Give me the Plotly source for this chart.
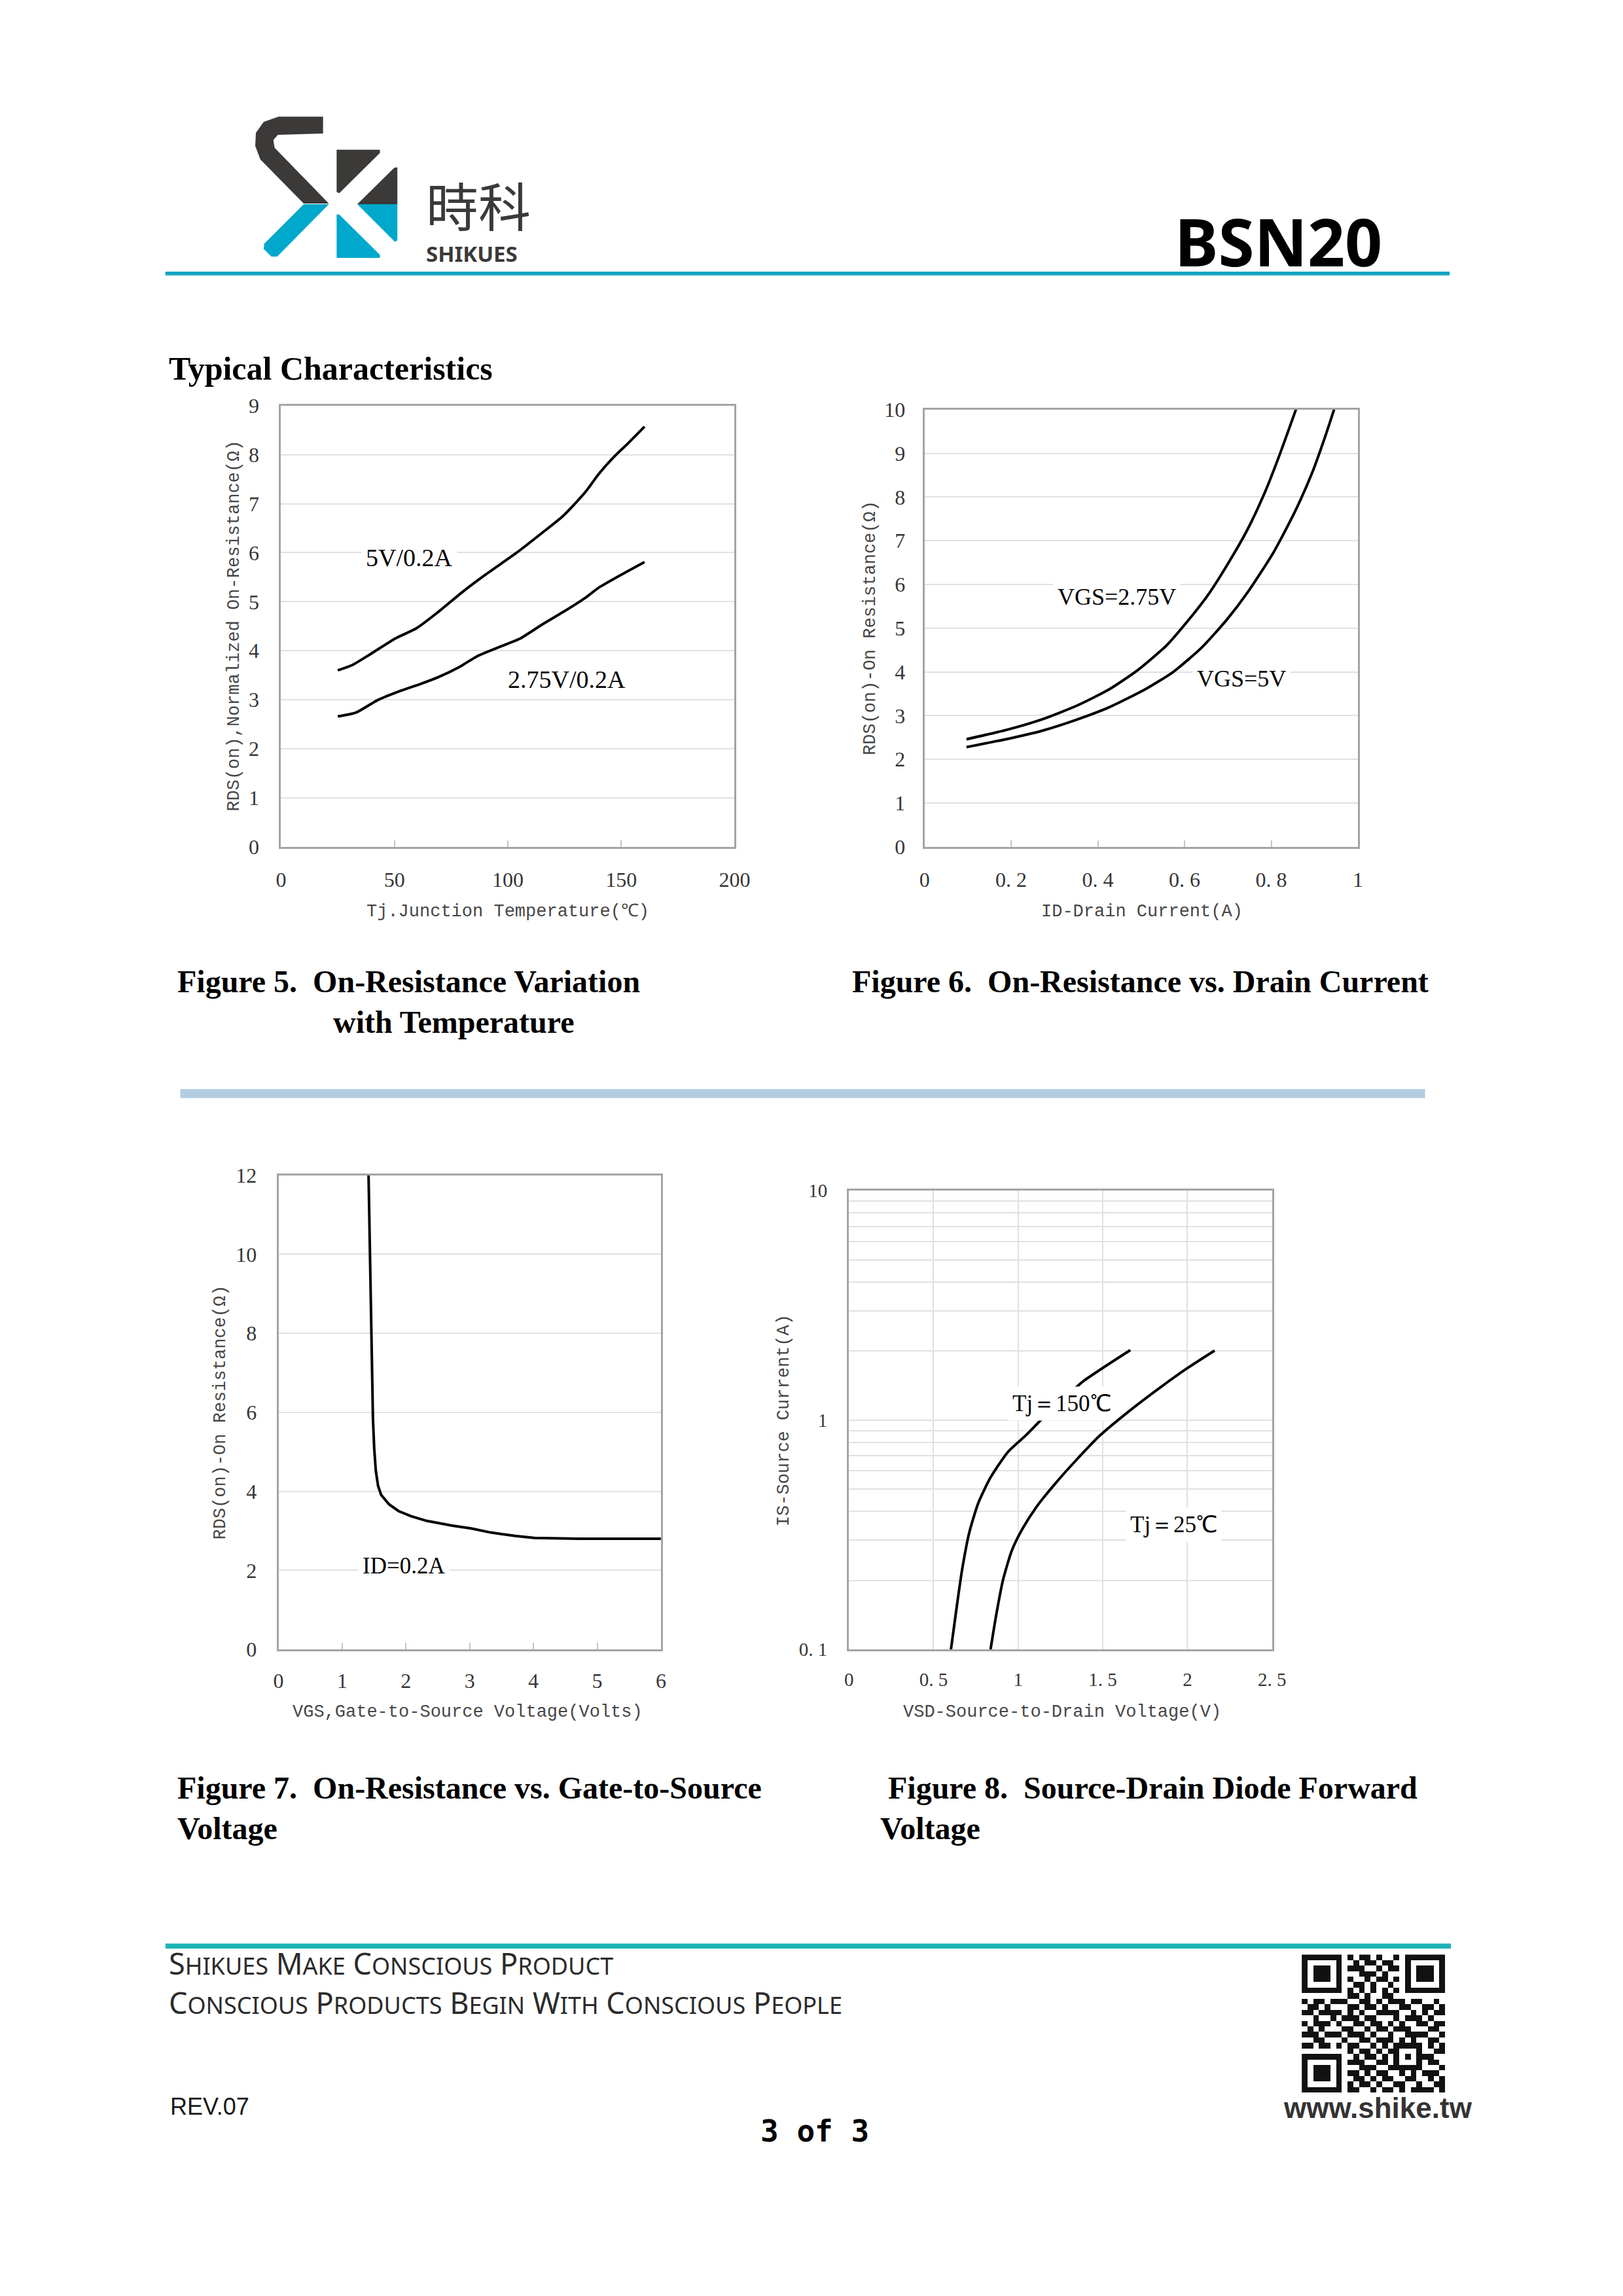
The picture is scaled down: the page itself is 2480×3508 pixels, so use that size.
import plotly.graph_objects as go

W, H = 2480, 3508

# Figure 5: on-resistance vs junction temperature
TEMP_5V = [25, 31.5, 39.4, 50.4, 59.8, 69.3, 80.3, 89.8, 103.9, 115, 124.4, 133.9, 140.2, 146.5, 152.8, 160.3]
RDS_5V = [3.60, 3.71, 3.93, 4.25, 4.46, 4.79, 5.21, 5.54, 6.00, 6.40, 6.75, 7.22, 7.61, 7.94, 8.22, 8.57]
TEMP_275V = [25, 33.1, 42.5, 52, 61.4, 69.3, 78.7, 86.6, 97.6, 105.5, 115, 124.4, 133.9, 140.2, 149.6, 160.3]
RDS_275V = [2.66, 2.74, 2.99, 3.17, 3.32, 3.46, 3.67, 3.89, 4.10, 4.25, 4.53, 4.79, 5.07, 5.29, 5.54, 5.81]

# Figure 6: on-resistance vs drain current
ID_VGS275 = [0.097, 0.188, 0.270, 0.352, 0.426, 0.492, 0.558, 0.607, 0.657, 0.706, 0.747, 0.788, 0.821, 0.857]
RDS_VGS275 = [2.46, 2.67, 2.91, 3.23, 3.60, 4.04, 4.60, 5.16, 5.80, 6.57, 7.29, 8.17, 9.01, 10.0]
ID_VGS5 = [0.097, 0.188, 0.270, 0.352, 0.426, 0.509, 0.574, 0.640, 0.698, 0.747, 0.805, 0.854, 0.895, 0.924, 0.945]
RDS_VGS5 = [2.28, 2.46, 2.65, 2.91, 3.19, 3.60, 4.00, 4.56, 5.20, 5.84, 6.73, 7.65, 8.57, 9.37, 10.0]

# Figure 7: on-resistance vs gate-to-source voltage
VGS = [1.413, 1.428, 1.443, 1.463, 1.482, 1.502, 1.527, 1.562, 1.611, 1.735, 1.884, 2.082,
       2.330, 2.727, 3.024, 3.322, 3.718, 4.016, 4.71, 6.0]
RDS_VGS = [12.0, 10.54, 8.66, 7.25, 5.84, 5.08, 4.52, 4.14, 3.91, 3.67, 3.50, 3.37,
           3.25, 3.13, 3.06, 2.96, 2.87, 2.82, 2.80, 2.80]

# Figure 8: source-drain diode forward voltage
VSD_150 = [0.603, 0.638, 0.669, 0.711, 0.764, 0.837, 0.941, 1.046, 1.151, 1.266, 1.381, 1.663]
IS_150 = [0.1, 0.155, 0.223, 0.323, 0.434, 0.562, 0.728, 0.859, 1.03, 1.23, 1.47, 2.02]
VSD_25 = [0.837, 0.868, 0.910, 0.962, 1.025, 1.109, 1.213, 1.339, 1.485, 1.653, 1.841, 2.008, 2.161]
IS_25 = [0.1, 0.138, 0.2, 0.269, 0.335, 0.419, 0.522, 0.664, 0.859, 1.09, 1.39, 1.70, 2.01]

# tick labels
FIG5_XTICKS = [0, 50, 100, 150, 200]
FIG5_YTICKS = [0, 1, 2, 3, 4, 5, 6, 7, 8, 9]
FIG6_XTICKS = [0, 0.2, 0.4, 0.6, 0.8, 1]
FIG6_XTEXT = ["0", "0. 2", "0. 4", "0. 6", "0. 8", "1"]
FIG6_YTICKS = [0, 1, 2, 3, 4, 5, 6, 7, 8, 9, 10]
FIG7_XTICKS = [0, 1, 2, 3, 4, 5, 6]
FIG7_YTICKS = [0, 2, 4, 6, 8, 10, 12]
FIG8_XTICKS = [0, 0.5, 1, 1.5, 2, 2.5]
FIG8_XTEXT = ["0", "0. 5", "1", "1. 5", "2", "2. 5"]
FIG8_YTICKS = [0.1, 0.2, 0.3, 0.4, 0.5, 0.6, 0.7, 0.8, 0.9,
               1, 2, 3, 4, 5, 6, 7, 8, 9, 10]
FIG8_YTEXT = ["0. 1", "", "", "", "", "", "", "", "",
              "1", "", "", "", "", "", "", "", "", "10"]

# QR code decoration (finder patterns + module rows)
FINDER = ["1111111", "1000001", "1011101", "1011101", "1011101", "1000001", "1111111"]
QR_TOP_MID = ["101101001", "010110110", "111001011", "001110100", "100101101", "011010010", "101010101"]
QR_MID_ROWS = [
    "0000000" + "0" + "110100110" + "0" + "0000000",
    "1011011100110101110110010",
    "0110100011011010011001101",
    "1101111010100111100101011",
    "0010010111011000101110100",
    "1011101001101101010011011",
    "0101000110010110111000110",
    "1110111011101001001111001",
    "0011000100110111010100110",
    "1101101011001010111110101",
    "0000000" + "0" + "10110101100010011",
]
QR_BOTTOM_DATA = ["01011010101011100", "11100110100010110", "00111001111110001", "11010110010101110",
                  "01101011001100101", "10110100110010011", "11001011010111101"]

SERIF = "Liberation Serif"
MONO = "Liberation Mono"
SANS = "Noto Sans"
FRAME = "#a4a4a4"
GRID = "#e1e1e1"
TICK = "#363636"
LOGO_DARK = "#3c3939"
LOGO_CYAN = "#00a8cc"


def px(x):
    return x / W


def py(y):
    return 1 - y / H


def path(points):
    return "M " + " L ".join(f"{px(x):.5f},{py(y):.5f}" for x, y in points) + " Z"


def small_caps(text, small):
    words = []
    for word in text.split(" "):
        words.append(word[0] + f"<span style='font-size:{small}px'>{word[1:].upper()}</span>")
    return " ".join(words)


def axis(domain, rng, tickvals, ticktext=None, **kw):
    d = dict(
        domain=domain, range=rng, tickvals=tickvals,
        ticktext=ticktext if ticktext is not None else [str(v) for v in tickvals],
        showline=True, mirror=True, linecolor=FRAME, linewidth=3,
        showgrid=True, gridcolor=GRID, gridwidth=2, zeroline=False,
        ticks="", tickfont=dict(family=SERIF, size=32, color=TICK),
        fixedrange=True,
    )
    d.update(kw)
    return d


def curve(x, y, xa, ya, shape="spline"):
    return go.Scatter(
        x=x, y=y, xaxis=xa, yaxis=ya, mode="lines",
        line=dict(color="black", width=4, shape=shape, smoothing=0.6),
        hoverinfo="skip", showlegend=False,
    )


def label(text, x, y, xref, yref, size=36, bg="white"):
    return dict(text=text, x=x, y=y, xref=xref, yref=yref, showarrow=False,
                font=dict(family=SERIF, size=size, color="black"),
                bgcolor=bg, borderpad=6)


def page_text(text, x, y, size, family=SERIF, color="black", xanchor="left", angle=0, bold=False):
    if bold:
        text = f"<b>{text}</b>"
    return dict(text=text, x=px(x), y=py(y), xref="paper", yref="paper",
                xanchor=xanchor, yanchor="middle", showarrow=False, textangle=angle,
                font=dict(family=family, size=size, color=color))


fig = go.Figure()

fig.add_trace(curve(TEMP_5V, RDS_5V, "x", "y"))
fig.add_trace(curve(TEMP_275V, RDS_275V, "x", "y"))
fig.add_trace(curve(ID_VGS275, RDS_VGS275, "x2", "y2"))
fig.add_trace(curve(ID_VGS5, RDS_VGS5, "x2", "y2"))
fig.add_trace(curve(VGS, RDS_VGS, "x3", "y3", shape="linear"))
fig.add_trace(curve(VSD_150, IS_150, "x4", "y4"))
fig.add_trace(curve(VSD_25, IS_25, "x4", "y4"))

qr_rows = [FINDER[i] + "0" + QR_TOP_MID[i] + "0" + FINDER[i] for i in range(7)]
qr_rows += QR_MID_ROWS
qr_rows += [FINDER[i] + "0" + QR_BOTTOM_DATA[i] for i in range(7)]
fig.add_trace(go.Heatmap(
    z=[[int(c) for c in row] for row in qr_rows], xaxis="x5", yaxis="y5",
    colorscale=[[0, "white"], [1, "#111111"]], showscale=False, hoverinfo="skip",
))

inside_ticks = dict(ticks="inside", ticklen=10, tickwidth=2, tickcolor="#c4c4c4")
fig8_font = dict(family=SERIF, size=29, color=TICK)

fig.update_layout(
    width=W, height=H,
    margin=dict(l=0, r=0, t=0, b=0),
    paper_bgcolor="white", plot_bgcolor="white",
    showlegend=False,
    xaxis=axis([px(427), px(1129)], [0, 200], FIG5_XTICKS, anchor="y", showgrid=False,
               ticklabelstandoff=20, **inside_ticks),
    yaxis=axis([py(1289), py(608)], [0, 9], FIG5_YTICKS, anchor="x", ticklabelstandoff=24),
    xaxis2=axis([px(1423), px(2094)], [0, 1], FIG6_XTICKS, FIG6_XTEXT, anchor="y2", showgrid=False,
                ticklabelstandoff=20, **inside_ticks),
    yaxis2=axis([py(1289), py(614)], [0, 10], FIG6_YTICKS, anchor="x2", ticklabelstandoff=20),
    xaxis3=axis([px(423), px(1015)], [0, 6], FIG7_XTICKS, anchor="y3", showgrid=False,
                ticklabelstandoff=18, **inside_ticks),
    yaxis3=axis([py(2528), py(1796)], [0, 12], FIG7_YTICKS, anchor="x3", ticklabelstandoff=24),
    xaxis4=axis([px(1306), px(1961)], [0, 2.5], FIG8_XTICKS, FIG8_XTEXT, anchor="y4",
                ticklabelstandoff=18, tickfont=fig8_font),
    yaxis4=axis([py(2528), py(1820)], [-1, 1], FIG8_YTICKS, FIG8_YTEXT, anchor="x4", type="log",
                ticklabelstandoff=24, tickfont=fig8_font),
    xaxis5=dict(domain=[px(2007), px(2229)], anchor="y5", visible=False, fixedrange=True),
    yaxis5=dict(domain=[py(3212), py(2999)], anchor="x5", visible=False, autorange="reversed",
                fixedrange=True),
)

# logo and rules
shapes = [
    # "S" hook: dark upper stroke, cyan lower stroke
    dict(type="path", path=path([(492, 162), (492, 188), (422, 190), (415, 198), (417, 210),
                                 (501, 296), (462, 296), (395, 228), (387, 207), (388, 187),
                                 (400, 170), (423, 162)]), fillcolor=LOGO_DARK),
    dict(type="path", path=path([(462, 297), (501, 297), (421, 378), (412, 378), (400, 366),
                                 (401, 358)]), fillcolor=LOGO_CYAN),
    # "K" arms
    dict(type="path", path=path([(513, 213), (580, 213), (580, 218), (517, 280), (513, 278)]),
         fillcolor=LOGO_DARK),
    dict(type="path", path=path([(513, 313), (517, 313), (580, 375), (580, 380), (513, 380)]),
         fillcolor=LOGO_CYAN),
    dict(type="path", path=path([(602, 241), (607, 240), (607, 297), (545, 297)]),
         fillcolor=LOGO_DARK),
    dict(type="path", path=path([(545, 297), (607, 297), (607, 353), (603, 355)]),
         fillcolor=LOGO_CYAN),
    # header rule
    dict(type="rect", x0=px(248), x1=px(2236), y0=py(407), y1=py(401), fillcolor="#12a3c2"),
    # section separator
    dict(type="rect", x0=px(271), x1=px(2198), y0=py(1677), y1=py(1663), fillcolor="#b4cde3"),
    # footer rule
    dict(type="rect", x0=px(248), x1=px(2238), y0=py(2990), y1=py(2982), fillcolor="#1cb4b6"),
]
for s in shapes:
    s.update(xref="paper", yref="paper", line_width=0)
fig.update_layout(shapes=shapes)

annotations = [
    # curve labels
    label("5V/0.2A", 56.7, 5.9, "x", "y", size=38),
    label("2.75V/0.2A", 126, 3.42, "x", "y", size=38),
    label("VGS=2.75V", 0.443, 5.71, "x2", "y2"),
    label("VGS=5V", 0.731, 3.85, "x2", "y2"),
    label("ID=0.2A", 1.97, 2.12, "x3", "y3", size=35),
    label("Tj＝150℃", 1.259, 0.072, "x4", "y4", size=35),
    label("Tj＝25℃", 1.92, -0.456, "x4", "y4", size=35),
    # axis titles
    page_text("Tj.Junction Temperature(℃)", 778, 1389, 27, MONO, "#474747", "center"),
    page_text("RDS(on),Normalized On-Resistance(Ω)", 355, 948, 27, MONO, "#474747", "center", -90),
    page_text("ID-Drain Current(A)", 1760, 1389, 27, MONO, "#474747", "center"),
    page_text("RDS(on)-On Resistance(Ω)", 1340, 951, 27, MONO, "#474747", "center", -90),
    page_text("VGS,Gate-to-Source Voltage(Volts)", 716, 2625, 27, MONO, "#474747", "center"),
    page_text("RDS(on)-On Resistance(Ω)", 333, 2162, 27, MONO, "#474747", "center", -90),
    page_text("VSD-Source-to-Drain Voltage(V)", 1636, 2625, 27, MONO, "#474747", "center"),
    page_text("IS-Source Current(A)", 1205, 2174, 27, MONO, "#474747", "center", -90),
    # header
    page_text("時科", 649, 296, 80, "Noto Sans CJK TC", LOGO_DARK),
    page_text("SHIKUES", 649, 373, 33, SANS, LOGO_DARK, bold=True),
    page_text("BSN20", 1808, 354, 100, SANS, "black", bold=True),
    page_text("Typical Characteristics", 251, 551, 50, SERIF, "black", bold=True),
    # captions
    page_text("Figure 5.\u00a0 On-Resistance Variation", 264, 1497, 48, SERIF, bold=True),
    page_text("with Temperature", 506, 1560, 48, SERIF, bold=True),
    page_text("Figure 6.\u00a0 On-Resistance vs. Drain Current", 1309, 1497, 48, SERIF, bold=True),
    page_text("Figure 7.\u00a0 On-Resistance vs. Gate-to-Source", 264, 2742, 48, SERIF, bold=True),
    page_text("Voltage", 264, 2804, 48, SERIF, bold=True),
    page_text("Figure 8.\u00a0 Source-Drain Diode Forward", 1365, 2742, 48, SERIF, bold=True),
    page_text("Voltage", 1352, 2804, 48, SERIF, bold=True),
    # footer
    page_text(small_caps("Shikues Make Conscious Product", 36), 251, 3012, 45, SANS, "#2b2b2b"),
    page_text(small_caps("Conscious Products Begin With Conscious People", 36), 251, 3073, 45, SANS, "#2b2b2b"),
    page_text("REV.07", 253, 3234, 36, "Liberation Sans", "#1a1a1a"),
    page_text("3 of 3", 1253, 3272, 46, "DejaVu Sans Mono", "black", "center", bold=True),
    page_text("www.shike.tw", 2125, 3236, 44, "Liberation Sans", "#333333", "center", bold=True),
]
fig.update_layout(annotations=annotations)

# pin the graph to the top-left corner of the page so pixels match the layout
PIN = ("var gd = document.getElementById('{plot_id}');"
       "document.body.style.margin = '0';"
       "gd.style.position = 'absolute'; gd.style.left = '0px'; gd.style.top = '0px';")

fig.write_html("out.html", post_script=PIN, config={"displayModeBar": False})
